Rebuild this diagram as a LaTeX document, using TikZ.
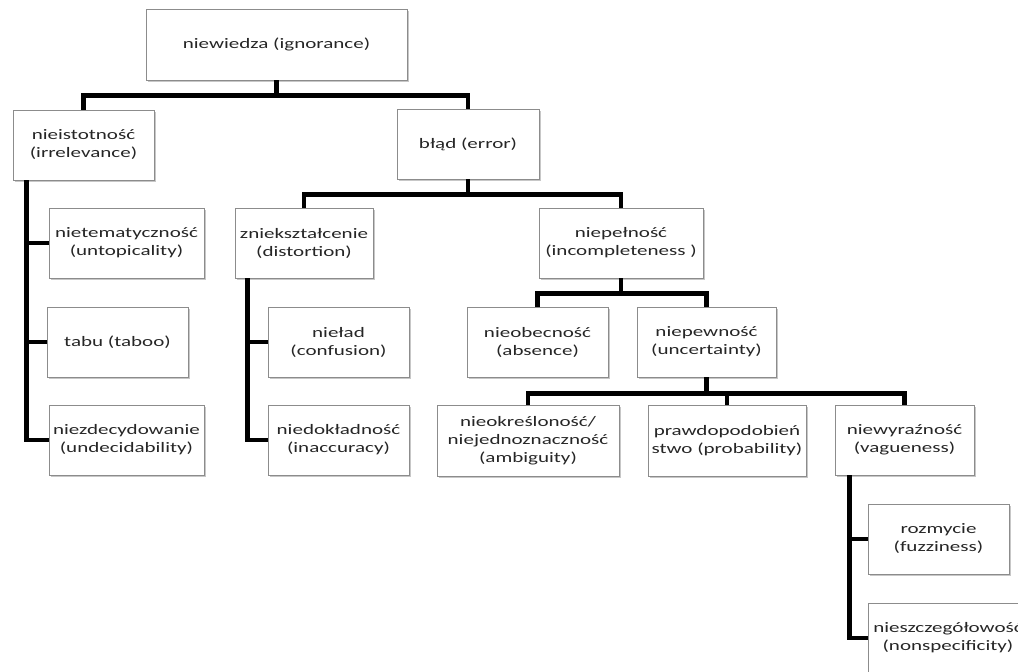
\documentclass[tikz,border=0pt]{standalone}
\usepackage{fontspec}
\setmainfont{Carlito}[FakeStretch=1.45]
\usetikzlibrary{shadows}
\begin{document}
\begin{tikzpicture}[x=1pt,y=1pt,
  box/.style={draw=black!45, line width=0.9pt, fill=white, align=center,
    inner xsep=0.5pt, inner ysep=1pt, minimum height=70, text=black!85,
    font=\fontsize{14.5}{18}\selectfont,
    drop shadow={shadow xshift=1.8pt, shadow yshift=-1.8pt, fill=black, opacity=0.22}},
  conn/.style={line width=4.5pt, draw=black, line join=miter}]
\clip (0,0) rectangle (1018,-672);
\fill[white] (0,0) rectangle (1018,-672);
% nodes
\node[box, minimum width=261, minimum height=71] (root) at (276.5,-44.5) {niewiedza (ignorance)};
\node[box, minimum width=141] (irr) at (83.5,-145) {nieistotność\\(irrelevance)};
\node[box, minimum width=142] (err) at (468,-144) {błąd (error)};
\node[box, minimum width=155] (untop) at (126.5,-243) {nietematyczność\\(untopicality)};
\node[box, minimum width=141] (taboo) at (117.5,-342) {tabu (taboo)};
\node[box, minimum width=155] (undec) at (126.5,-440) {niezdecydowanie\\(undecidability)};
\node[box, minimum width=138] (dist) at (304,-243) {zniekształcenie\\(distortion)};
\node[box, minimum width=141] (conf) at (338.5,-342) {nieład\\(confusion)};
\node[box, minimum width=141] (inacc) at (338.5,-440) {niedokładność\\(inaccuracy)};
\node[box, minimum width=164] (incompl) at (621,-243) {niepełność\\(incompleteness )};
\node[box, minimum width=141] (abs) at (537.5,-342) {nieobecność\\(absence)};
\node[box, minimum width=139] (uncert) at (706.5,-342) {niepewność\\(uncertainty)};
\node[box, minimum width=182, minimum height=71] (ambig) at (528,-440.5) {nieokreśloność/\\niejednoznaczność\\(ambiguity)};
\node[box, minimum width=158, minimum height=71] (prob) at (727,-440.5) {prawdopodobień\\stwo (probability)};
\node[box, minimum width=139] (vague) at (904.5,-440) {niewyraźność\\(vagueness)};
\node[box, minimum width=141] (fuzzy) at (938.5,-539) {rozmycie\\(fuzziness)};
\node[box, minimum width=160] (nonspec) at (948,-638) {nieszczegółowość\\(nonspecificity)};
% connectors
\draw[conn] (root.south) -- ++(0,-15) -| (irr.north);
\draw[conn] (root.south) -- ++(0,-15) -| (err.north);
\draw[conn] (err.south) -- ++(0,-15) -| (dist.north);
\draw[conn] (err.south) -- ++(0,-15) -| (incompl.north);
\draw[conn] (incompl.south) -- ++(0,-15) -| (abs.north);
\draw[conn] (incompl.south) -- ++(0,-15) -| (uncert.north);
\draw[conn] (uncert.south) -- ++(0,-16) -| (ambig.north);
\draw[conn] (uncert.south) -- ++(0,-16) -| (prob.north);
\draw[conn] (uncert.south) -- ++(0,-16) -| (vague.north);
\coordinate (irrv) at ([xshift=14pt]irr.south west);
\draw[conn] (irrv) |- (untop.west);
\draw[conn] (irrv) |- (taboo.west);
\draw[conn] (irrv) |- (undec.west);
\coordinate (distv) at ([xshift=13pt]dist.south west);
\draw[conn] (distv) |- (conf.west);
\draw[conn] (distv) |- (inacc.west);
\coordinate (vaguev) at ([xshift=15pt]vague.south west);
\draw[conn] (vaguev) |- (fuzzy.west);
\draw[conn] (vaguev) |- (nonspec.west);
\end{tikzpicture}
\end{document}
